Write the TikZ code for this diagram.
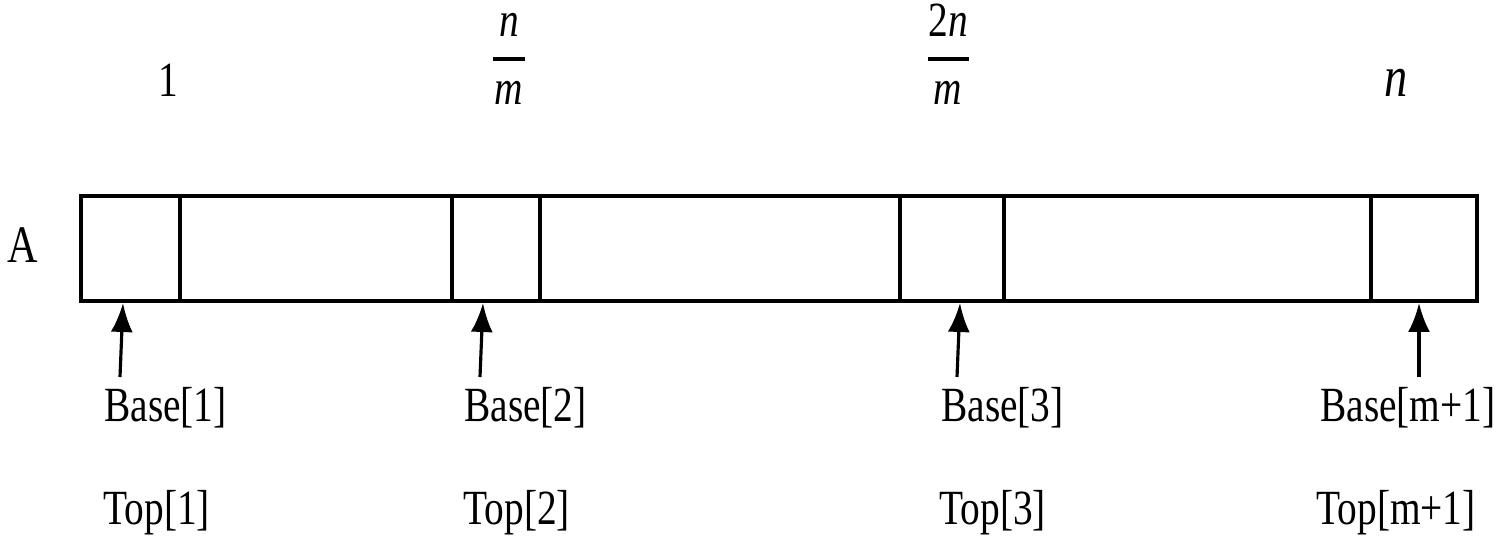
\documentclass[tikz,border=0pt]{standalone}
\usepackage{fontspec}
\setmainfont{Liberation Serif}[FakeStretch=0.8]
\usetikzlibrary{arrows.meta}
\begin{document}
\begin{tikzpicture}[x=0.02cm,y=-0.02cm,
  lbl/.style={inner sep=0pt, anchor=base west, font=\fontsize{28}{33}\selectfont},
  hdr/.style={inner sep=0pt, anchor=base, font=\fontsize{28}{33}\selectfont},
  outer/.style={line width=2.3pt},
  divider/.style={line width=1.8pt},
  fbar/.style={line width=2.4pt},
  ptr/.style={line width=1.8pt, -{Latex[length=0.58cm,width=0.44cm]}}]
\useasboundingbox (0,0) rectangle (1510,540);
% array
\draw[outer] (81,196) rectangle (1477,301);
\foreach \x in {180,452,540,900,1004,1371}
  \draw[divider] (\x,196) -- (\x,301);
% headers
\node[hdr] (h1) at (168,97) {1};
\node[hdr] (n2) at (509,37) {\itshape n};
\node[hdr] (m2) at (509,105) {\itshape m};
\coordinate (l2) at (493,59); \coordinate (r2) at (525,59);
\draw[fbar] (l2) -- (r2);
\node[hdr] (n3) at (948,37) {2\itshape n};
\node[hdr] (m3) at (948,105) {\itshape m};
\coordinate (l3) at (928,59); \coordinate (r3) at (969,59);
\draw[fbar] (l3) -- (r3);
\node[hdr, font=\fontsize{33}{38}\selectfont] (h4) at (1396,97) {\itshape n};
\node[hdr, font=\fontsize{30}{34}\selectfont] (A) at (23,263) {A};
% arrow coordinates
\coordinate (s1) at (120,377); \coordinate (t1) at (123,303);
\coordinate (s2) at (480,377); \coordinate (t2) at (483,303);
\coordinate (s3) at (957,377); \coordinate (t3) at (960,303);
\coordinate (s4) at (1419,377); \coordinate (t4) at (1419,303);
\draw[ptr] (s1) -- (t1);
\draw[ptr] (s2) -- (t2);
\draw[ptr] (s3) -- (t3);
\draw[ptr] (s4) -- (t4);
% labels
\node[lbl] (b1) at (104,421) {Base[1]};
\node[lbl] (b2) at (464,421) {Base[2]};
\node[lbl] (b3) at (941,421) {Base[3]};
\node[lbl] (b4) at (1320,421) {Base[m+1]};
\node[lbl] (p1) at (103,524) {Top[1]};
\node[lbl] (p2) at (463,524) {Top[2]};
\node[lbl] (p3) at (939,524) {Top[3]};
\node[lbl] (p4) at (1316,524) {Top[m+1]};
\end{tikzpicture}
\end{document}
